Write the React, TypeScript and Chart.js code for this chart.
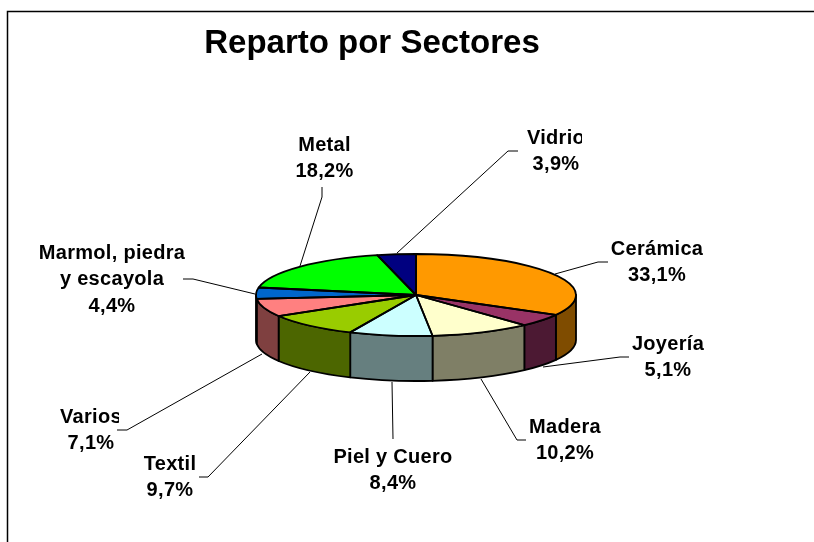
import React, { useEffect, useRef } from "react";
import { Chart, registerables } from "chart.js";

Chart.register(...registerables);

const chartTitle = "Reparto por Sectores";
const categories = ["Cerámica", "Joyería", "Madera", "Piel y Cuero", "Textil", "Varios", "Marmol, piedra\ny escayola", "Metal", "Vidrio"];
const shares = [33.1, 5.1, 10.2, 8.4, 9.7, 7.1, 4.4, 18.2, 3.9];
const topColors = ["#FF9900", "#993366", "#FFFFCC", "#CCFFFF", "#99CC00", "#FF8080", "#0066CC", "#00FF00", "#000080"];
const sideColors = ["#7F4C00", "#4C1933", "#7F7F66", "#667F7F", "#4C6600", "#7F4040", "#003366", "#007F00", "#000040"];

// Layout of the labels: centre x, first baseline y, clip edge on the right (label box)
const labelPlaces: [number, number, number?][] = [
  [657, 255], [668, 350], [565, 433], [393, 463], [170, 470], [91, 423, 119], [112, 259, 185], [324.5, 151], [556, 144, 582],
];
const leaders: [number, number][][] = [
  [[608, 262], [598, 262], [555, 274]],
  [[629, 357], [620, 357], [543, 367]],
  [[526, 440], [517, 440], [481, 379]],
  [[393, 439], [392, 382]],
  [[199, 477], [208, 477], [310, 372]],
  [[117, 430], [127, 430], [262, 354]],
  [[183, 279], [193, 279], [255, 294]],
  [[322, 187], [322, 197], [300, 266]],
  [[518, 151], [508, 151], [397, 253]],
];

const squash = 41 / 160;
const depth = 45;
const labelFont = "bold 20px 'Liberation Sans', Arial, sans-serif";
const titleFont = "bold 33px 'Liberation Sans', Arial, sans-serif";

const pie3d = {
  id: "pie3d",
  beforeDraw(chart: any) {
    const ctx = chart.ctx;
    ctx.save();
    ctx.fillStyle = "#ffffff";
    ctx.fillRect(0, 0, chart.width, chart.height);
    ctx.strokeStyle = "#000000";
    ctx.lineWidth = 1.5;
    ctx.beginPath();
    ctx.moveTo(7.5, chart.height);
    ctx.lineTo(7.5, 11.5);
    ctx.lineTo(chart.width, 11.5);
    ctx.stroke();
    ctx.restore();
  },
  beforeDatasetsDraw(chart: any) {
    const ctx = chart.ctx;
    const arcs = chart.getDatasetMeta(0).data;
    ctx.save();
    ctx.lineWidth = 1.8;
    ctx.strokeStyle = "#000000";
    ctx.lineJoin = "round";
    arcs.forEach((arc: any, i: number) => {
      const { x, y, startAngle, endAngle, outerRadius: r } = arc.getProps(["x", "y", "startAngle", "endAngle", "outerRadius"]);
      // Only the part of the rim that faces the viewer (canvas angles 0..PI, also after one full turn)
      for (const shift of [0, Math.PI * 2]) {
        const a0 = Math.max(startAngle - shift, 0);
        const a1 = Math.min(endAngle - shift, Math.PI);
        if (a1 <= a0) continue;
        ctx.beginPath();
        ctx.ellipse(x, y, r, r * squash, 0, a0, a1);
        ctx.ellipse(x, y + depth, r, r * squash, 0, a1, a0, true);
        ctx.closePath();
        ctx.fillStyle = sideColors[i];
        ctx.fill();
        ctx.stroke();
      }
    });
    ctx.restore();
    const first = arcs[0];
    ctx.save();
    ctx.translate(first.x, first.y);
    ctx.scale(1, squash);
    ctx.translate(-first.x, -first.y);
  },
  afterDatasetsDraw(chart: any) {
    const ctx = chart.ctx;
    ctx.restore();
    const arcs = chart.getDatasetMeta(0).data;
    ctx.save();
    ctx.lineWidth = 1.8;
    ctx.strokeStyle = "#000000";
    ctx.lineJoin = "round";
    arcs.forEach((arc: any) => {
      const { x, y, startAngle, endAngle, outerRadius: r } = arc.getProps(["x", "y", "startAngle", "endAngle", "outerRadius"]);
      ctx.beginPath();
      ctx.moveTo(x, y);
      ctx.ellipse(x, y, r, r * squash, 0, startAngle, endAngle);
      ctx.closePath();
      ctx.stroke();
    });
    ctx.restore();
  },
  afterDraw(chart: any) {
    const ctx = chart.ctx;
    ctx.save();
    ctx.fillStyle = "#000000";
    ctx.textBaseline = "alphabetic";
    ctx.textAlign = "center";
    ctx.font = titleFont;
    ctx.fillText(chartTitle, 372, 53);

    ctx.strokeStyle = "#000000";
    ctx.lineWidth = 1;
    leaders.forEach((pts) => {
      ctx.beginPath();
      pts.forEach(([px, py], k) => (k ? ctx.lineTo(px, py) : ctx.moveTo(px, py)));
      ctx.stroke();
    });

    ctx.font = labelFont;
    (ctx as any).letterSpacing = "0.3px";
    categories.forEach((name, i) => {
      const [cx, base, clipRight] = labelPlaces[i];
      const lines = [...name.split("\n"), shares[i].toFixed(1).replace(".", ",") + "%"];
      ctx.save();
      if (clipRight) {
        ctx.beginPath();
        ctx.rect(0, 0, clipRight, chart.height);
        ctx.clip();
      }
      lines.forEach((line, k) => ctx.fillText(line, cx, base + k * 26.3));
      ctx.restore();
    });
    ctx.restore();
  },
};

export default function App() {
  const ref = useRef<HTMLCanvasElement>(null);
  useEffect(() => {
    const chart = new Chart(ref.current!, {
      type: "pie",
      data: {
        labels: categories,
        datasets: [{ data: shares, backgroundColor: topColors, borderWidth: 0, clip: false } as any],
      },
      options: {
        responsive: false,
        animation: false,
        events: [],
        layout: { padding: { left: 256, right: 238, top: 135, bottom: 87 } },
        plugins: { legend: { display: false }, tooltip: { enabled: false }, title: { display: false } },
      },
      plugins: [pie3d],
    });
    return () => chart.destroy();
  }, []);
  return (
    <div style={{ position: "absolute", left: 0, top: 0, width: 814, height: 542 }}>
      <canvas ref={ref} width={814} height={542} style={{ display: "block" }} />
    </div>
  );
}
